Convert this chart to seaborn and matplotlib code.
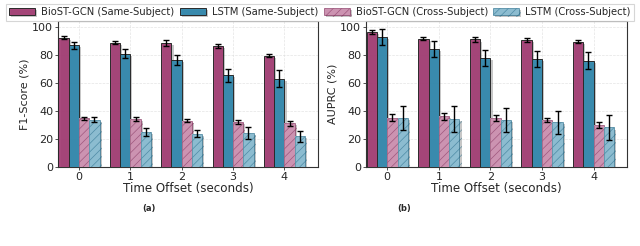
import matplotlib
matplotlib.use("Agg")
import matplotlib.pyplot as plt
import matplotlib.patheffects as pe
from matplotlib.colors import to_rgb
import seaborn as sns
import pandas as pd

offsets = [0, 1, 2, 3, 4]
models = ["BioST-GCN (Same-Subject)", "LSTM (Same-Subject)",
          "BioST-GCN (Cross-Subject)", "LSTM (Cross-Subject)"]
colors = ["#A23B72", "#2E86AB", "#A23B72", "#2E86AB"]

# F1-score (%)
f1_biost_same = [92.6, 89.0, 88.6, 86.7, 79.8]
f1_biost_same_err = [1.0, 1.0, 2.0, 1.5, 0.8]
f1_lstm_same = [87.1, 81.0, 76.4, 65.7, 63.3]
f1_lstm_same_err = [2.6, 3.2, 3.5, 4.5, 6.0]
f1_biost_cross = [34.8, 34.3, 33.1, 32.1, 31.4]
f1_biost_cross_err = [1.0, 1.2, 1.2, 1.5, 1.8]
f1_lstm_cross = [34.0, 25.0, 24.0, 24.5, 22.0]
f1_lstm_cross_err = [1.6, 3.0, 2.6, 4.5, 4.0]

# AUPRC (%)
ap_biost_same = [96.4, 91.9, 91.3, 91.0, 89.6]
ap_biost_same_err = [1.5, 1.2, 1.5, 1.6, 1.0]
ap_lstm_same = [92.9, 84.8, 78.1, 77.1, 76.2]
ap_lstm_same_err = [5.7, 5.7, 6.0, 5.6, 6.2]
ap_biost_cross = [35.2, 36.4, 35.0, 33.6, 30.0]
ap_biost_cross_err = [2.5, 2.5, 2.0, 1.6, 2.0]
ap_lstm_cross = [35.0, 34.4, 33.8, 32.1, 28.3]
ap_lstm_cross_err = [8.4, 9.0, 8.6, 8.2, 9.0]

ylabels = ["F1-Score (%)", "AUPRC (%)"]
xlabel = "Time Offset (seconds)"
panel_labels = ["(a)", "(b)"]

panels = [
    ([f1_biost_same, f1_lstm_same, f1_biost_cross, f1_lstm_cross],
     [f1_biost_same_err, f1_lstm_same_err, f1_biost_cross_err, f1_lstm_cross_err]),
    ([ap_biost_same, ap_lstm_same, ap_biost_cross, ap_lstm_cross],
     [ap_biost_same_err, ap_lstm_same_err, ap_biost_cross_err, ap_lstm_cross_err]),
]

sns.set_theme(style="whitegrid")
plt.rcParams["font.family"] = ["DejaVu Sans"]
plt.rcParams["hatch.linewidth"] = 0.5

fig = plt.figure(figsize=(6.4, 2.46), dpi=100)
axes = [fig.add_axes([0.0906, 0.321, 0.406, 0.5935]),
        fig.add_axes([0.572, 0.321, 0.408, 0.5935])]


def style_bar(bar, idx):
    base = to_rgb(colors[idx])
    bar.set_linewidth(0.7)
    bar.set_alpha(None)
    if idx >= 2:
        bar.set_path_effects([
            pe.SimplePatchShadow(offset=(1.5, -1.5), shadow_rgbFace="0.45", alpha=0.4),
            pe.PathPatchEffect(facecolor="white", edgecolor="none"),
            pe.Normal()])
        bar.set_facecolor((*base, 0.55))
        bar.set_hatch("////")
        dark = tuple(c * 0.8 for c in base)
        try:
            bar.set_hatchcolor((*dark, 0.6))
            bar.set_edgecolor((0.55, 0.55, 0.55, 0.8))
        except AttributeError:
            bar.set_edgecolor((*dark, 0.6))
    else:
        bar.set_path_effects([
            pe.SimplePatchShadow(offset=(1.5, -1.5), shadow_rgbFace="0.45", alpha=0.4),
            pe.Normal()])
        bar.set_facecolor((*base, 0.93))
        bar.set_edgecolor("#2a2a2a")


bar_handles = []
for ax, (vals, errs), ylab in zip(axes, panels, ylabels):
    rows = []
    for m, v in zip(models, vals):
        for o, val in zip(offsets, v):
            rows.append({"offset": o, "model": m, "value": val})
    df = pd.DataFrame(rows)
    sns.barplot(data=df, x="offset", y="value", hue="model", hue_order=models,
                palette=colors, saturation=1, errorbar=None, width=0.8,
                legend=False, ax=ax, zorder=3)
    conts = list(ax.containers)
    bar_handles.append([c[0] for c in conts])
    for i, cont in enumerate(conts):
        for j, bar in enumerate(cont.patches):
            style_bar(bar, i)
            xc = bar.get_x() + bar.get_width() / 2
            ax.errorbar(xc, bar.get_height(), yerr=errs[i][j], fmt="none",
                        ecolor="black", elinewidth=1.0, capsize=2, capthick=1.0,
                        zorder=5)
    ax.set_ylim(0, 104.5)
    ax.set_xlim(-0.41, 4.65)
    ax.set_yticks([0, 20, 40, 60, 80, 100])
    ax.set_xlabel(xlabel, fontsize=8.6, labelpad=0)
    ax.set_ylabel(ylab, fontsize=8.0, labelpad=2)
    ax.tick_params(axis="both", labelsize=8, pad=1, length=2.5, color="#333333",
                   direction="out", bottom=True, left=True, width=0.6)
    ax.grid(True, color="#dddddd", linestyle="--", linewidth=0.5, alpha=0.8)
    for s in ax.spines.values():
        s.set_color("#333333")
        s.set_linewidth(0.8)

handles = bar_handles[0]
leg = fig.legend(handles, models, loc="upper center", bbox_to_anchor=(0.5, 1.005),
                 ncol=4, fontsize=7.2, frameon=True, handlelength=2.6,
                 handletextpad=0.6, columnspacing=0.55, borderpad=0.35,
                 fancybox=False, edgecolor="#cccccc")
leg.get_frame().set_linewidth(0.8)

fig.text(149 / 640, 1 - 209 / 246, panel_labels[0], ha="center", va="center",
         fontsize=6, fontweight="bold")
fig.text(404 / 640, 1 - 209 / 246, panel_labels[1], ha="center", va="center",
         fontsize=6, fontweight="bold")

fig.savefig("out.png", dpi=100)
